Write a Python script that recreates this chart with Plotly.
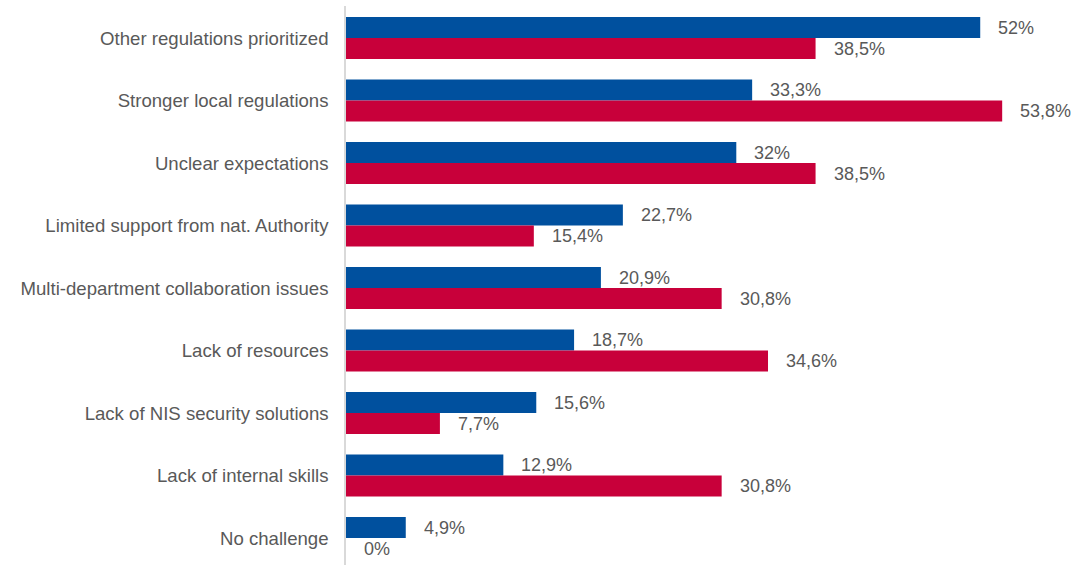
import plotly.graph_objects as go

categories = [
    "Other regulations prioritized",
    "Stronger local regulations",
    "Unclear expectations",
    "Limited support from nat. Authority",
    "Multi-department collaboration issues",
    "Lack of resources",
    "Lack of NIS security solutions",
    "Lack of internal skills",
    "No challenge",
]
series_blue = [52, 33.3, 32, 22.7, 20.9, 18.7, 15.6, 12.9, 4.9]
series_red = [38.5, 53.8, 38.5, 15.4, 30.8, 34.6, 7.7, 30.8, 0]

BLUE = "#00509E"
RED = "#C8003A"
TEXT = "#595959"
FONT = "Liberation Sans, Arial, sans-serif"

off = 0.168
wid = 0.336
idx = list(range(len(categories)))

fig = go.Figure()
fig.add_trace(go.Bar(
    x=series_blue, y=[i - off for i in idx], width=wid,
    orientation="h", marker=dict(color=BLUE, line=dict(width=0)),
    name="Series 1", showlegend=False, hoverinfo="x",
))
fig.add_trace(go.Bar(
    x=series_red, y=[i + off for i in idx], width=wid,
    orientation="h", marker=dict(color=RED, line=dict(width=0)),
    name="Series 2", showlegend=False, hoverinfo="x",
))


def fmt(v):
    s = ("%g" % v).replace(".", ",")
    return s + "%"


annotations = []
for i, v in enumerate(series_blue):
    annotations.append(dict(x=v, y=i - off, text=fmt(v), xanchor="left",
                            yanchor="middle", xshift=16, showarrow=False,
                            font=dict(size=18, color=TEXT, family=FONT)))
for i, v in enumerate(series_red):
    annotations.append(dict(x=v, y=i + off, text=fmt(v), xanchor="left",
                            yanchor="middle", xshift=16, showarrow=False,
                            font=dict(size=18, color=TEXT, family=FONT)))

fig.update_layout(
    width=1090, height=565,
    margin=dict(l=346, r=0, t=6, b=0),
    paper_bgcolor="white", plot_bgcolor="white",
    barmode="overlay",
    font=dict(family=FONT, size=18, color=TEXT),
    annotations=annotations,
    xaxis=dict(range=[0, 61.0], showgrid=False, zeroline=False,
               showticklabels=False, showline=False, fixedrange=True),
    yaxis=dict(range=[8.432, -0.512], tickmode="array", tickvals=idx,
               ticktext=categories, showgrid=False, zeroline=False,
               showline=True, linecolor="#d9d9d9", linewidth=1.5,
               ticks="", ticklabelstandoff=12,
               tickfont=dict(size=18.6, color=TEXT, family=FONT)),
)

fig.write_html("out.html")
